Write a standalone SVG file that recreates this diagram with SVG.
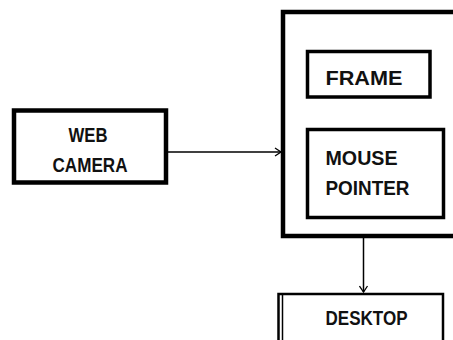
<svg xmlns="http://www.w3.org/2000/svg" width="453" height="340" viewBox="0 0 453 340">
<defs>
<marker id="arr" markerWidth="10" markerHeight="10" refX="8" refY="5" orient="auto" markerUnits="userSpaceOnUse">
<path d="M2,1 L8,5 L2,9" fill="none" stroke="#000" stroke-width="1.3"/>
</marker>
<style>
.box{fill:#fff;stroke:#000}
.t{font-family:"Liberation Sans",Arial,sans-serif;font-weight:bold;font-size:20px;fill:#111}
.c{stroke:#000;stroke-width:1.5;fill:none}
</style>
</defs>
<rect width="453" height="340" fill="#fff"/>
<g id="webcam">
<rect class="box" x="14" y="110.5" width="152" height="72" stroke-width="4.5"/>
<text class="t" x="68.5" y="142" textLength="39" lengthAdjust="spacingAndGlyphs">WEB</text>
<text class="t" x="52.5" y="172" textLength="75" lengthAdjust="spacingAndGlyphs">CAMERA</text>
</g>
<g id="system">
<rect class="box" x="283" y="12" width="180" height="224" stroke-width="4.5"/>
</g>
<g id="frame">
<rect class="box" x="307.5" y="51.5" width="122.5" height="45.5" stroke-width="3.5"/>
<text class="t" x="325.5" y="85" textLength="77" lengthAdjust="spacingAndGlyphs">FRAME</text>
</g>
<g id="mouse">
<rect class="box" x="307.5" y="129.5" width="136" height="88" stroke-width="3.5"/>
<text class="t" x="325.5" y="165" textLength="72" lengthAdjust="spacingAndGlyphs">MOUSE</text>
<text class="t" x="325.5" y="195" textLength="84" lengthAdjust="spacingAndGlyphs">POINTER</text>
</g>
<g id="desktop">
<rect class="box" x="278.5" y="294" width="164.5" height="60" stroke-width="2.5"/>
<line x1="282.5" y1="294" x2="282.5" y2="345" stroke="#000" stroke-width="1.5"/>
<text class="t" x="325.5" y="325" textLength="82" lengthAdjust="spacingAndGlyphs">DESKTOP</text>
</g>
<g id="connectors">
<line class="c" x1="166" y1="152" x2="281" y2="152" marker-end="url(#arr)"/>
<line class="c" x1="363.5" y1="238" x2="363.5" y2="292" marker-end="url(#arr)"/>
</g>
</svg>
